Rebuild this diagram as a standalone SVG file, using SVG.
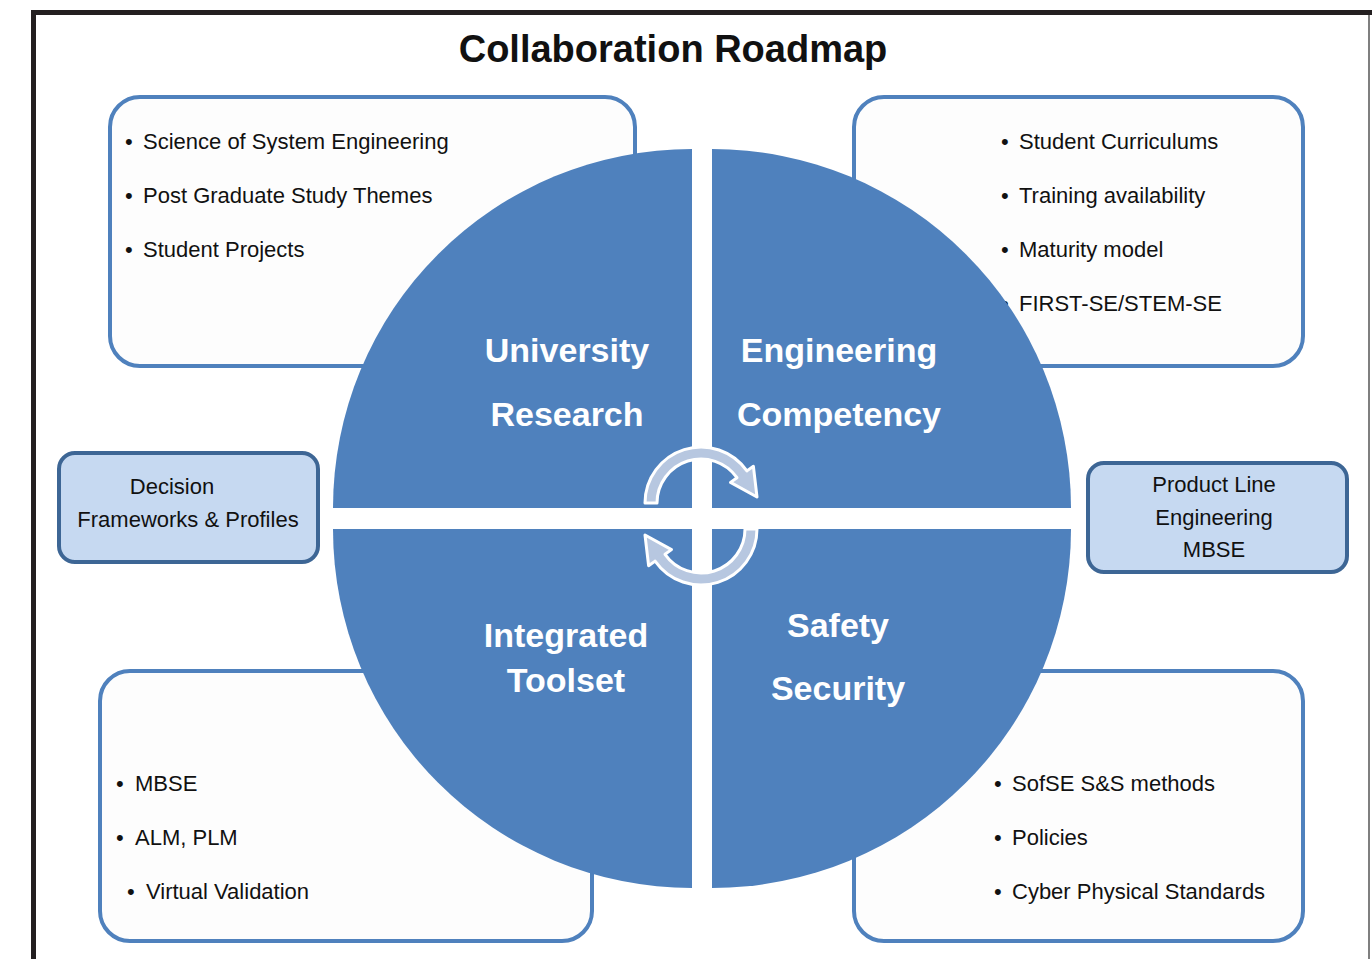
<svg xmlns="http://www.w3.org/2000/svg" width="1372" height="959" viewBox="0 0 1372 959">
<defs>
<style>
.box{fill:#fdfdfd;stroke:#4f81bd;stroke-width:4}
.sbox{fill:#c6d9f1;stroke:#3d6695;stroke-width:4}
.q{fill:#4f81bd}
.t{font-family:"Liberation Sans",Arial,sans-serif;font-size:22px;fill:#111}
.c{text-anchor:middle}
.ql{font-family:"Liberation Sans",Arial,sans-serif;font-size:34px;font-weight:bold;fill:#fff;text-anchor:middle}
.arr{fill:#b7c7e0;stroke:#fff;stroke-width:3;stroke-linejoin:round}
</style>
</defs>
<rect width="1372" height="959" fill="#fff"/>
<path d="M33.5,959 V12.5 H1372" fill="none" stroke="#231f20" stroke-width="5"/>
<line x1="1369" y1="15" x2="1369" y2="959" stroke="#555" stroke-width="1.5"/>
<text x="673" y="62" class="t c" style="font-size:38px;font-weight:bold">Collaboration Roadmap</text>

<g id="box-tl">
<rect class="box" x="110" y="97" width="525" height="269" rx="30"/>
<text class="t" x="125" y="149">•</text><text class="t" x="143" y="149">Science of System  Engineering</text>
<text class="t" x="125" y="203">•</text><text class="t" x="143" y="203">Post Graduate Study Themes</text>
<text class="t" x="125" y="257">•</text><text class="t" x="143" y="257">Student Projects</text>
</g>
<g id="box-tr">
<rect class="box" x="854" y="97" width="449" height="269" rx="30"/>
<text class="t" x="1001" y="149">•</text><text class="t" x="1019" y="149">Student Curriculums</text>
<text class="t" x="1001" y="203">•</text><text class="t" x="1019" y="203">Training availability</text>
<text class="t" x="1001" y="257">•</text><text class="t" x="1019" y="257">Maturity model</text>
<text class="t" x="1001" y="311">•</text><text class="t" x="1019" y="311">FIRST-SE/STEM-SE</text>
</g>
<g id="box-bl">
<rect class="box" x="100" y="671" width="492" height="270" rx="30"/>
<text class="t" x="116" y="791">•</text><text class="t" x="135" y="791">MBSE</text>
<text class="t" x="116" y="845">•</text><text class="t" x="135" y="845">ALM, PLM</text>
<text class="t" x="127" y="899">•</text><text class="t" x="146" y="899">Virtual Validation</text>
</g>
<g id="box-br">
<rect class="box" x="854" y="671" width="449" height="270" rx="30"/>
<text class="t" x="994" y="791">•</text><text class="t" x="1012" y="791">SofSE S&amp;S methods</text>
<text class="t" x="994" y="845">•</text><text class="t" x="1012" y="845">Policies</text>
<text class="t" x="994" y="899">•</text><text class="t" x="1012" y="899">Cyber Physical Standards</text>
</g>

<g id="quad-university">
<path class="q" d="M692,508 H333 A359,359 0 0 1 692,149 Z"/>
<text class="ql" x="567" y="362">University</text>
<text class="ql" x="567" y="426">Research</text>
</g>
<g id="quad-engineering">
<path class="q" d="M712,508 V149 A359,359 0 0 1 1071,508 Z"/>
<text class="ql" x="839" y="362">Engineering</text>
<text class="ql" x="839" y="426">Competency</text>
</g>
<g id="quad-toolset">
<path class="q" d="M692,529 V888 A359,359 0 0 1 333,529 Z"/>
<text class="ql" x="566" y="647">Integrated</text>
<text class="ql" x="566" y="692">Toolset</text>
</g>
<g id="quad-safety">
<path class="q" d="M712,529 H1071 A359,359 0 0 1 712,888 Z"/>
<text class="ql" x="838" y="637">Safety</text>
<text class="ql" x="838" y="700">Security</text>
</g>

<g id="connectors">
<path class="arr" d="M645,503 A56,56 0 0 1 746.9,470.9 L753.4,466.3 L757,497 L730.5,482.4 L737,477.7 A44,44 0 0 0 657,503 Z"/>
<path class="arr" transform="rotate(180 701 516)" d="M645,503 A56,56 0 0 1 746.9,470.9 L753.4,466.3 L757,497 L730.5,482.4 L737,477.7 A44,44 0 0 0 657,503 Z"/>
</g>

<g id="box-decision">
<rect class="sbox" x="59" y="453" width="259" height="109" rx="16"/>
<text class="t c" x="172" y="494">Decision</text>
<text class="t c" x="188" y="527">Frameworks &amp; Profiles</text>
</g>
<g id="box-ple">
<rect class="sbox" x="1088" y="463" width="259" height="109" rx="16"/>
<text class="t c" x="1214" y="492">Product Line</text>
<text class="t c" x="1214" y="525">Engineering</text>
<text class="t c" x="1214" y="557">MBSE</text>
</g>
</svg>
